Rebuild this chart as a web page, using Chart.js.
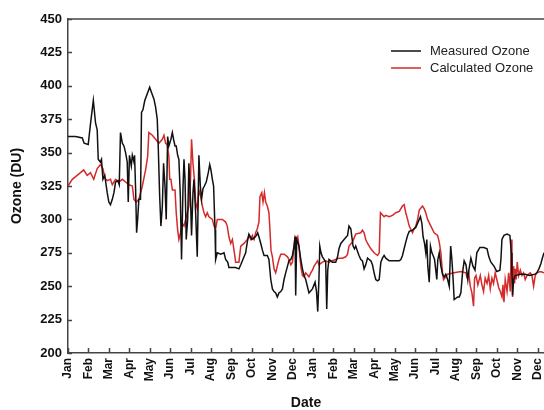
<!DOCTYPE html>
<html>
<head>
<meta charset="utf-8">
<script src="https://cdn.jsdelivr.net/npm/chart.js@4.4.1/dist/chart.umd.min.js"></script>
<style>
  html, body { margin: 0; padding: 0; background: #fff; overflow: hidden; }
  canvas { display: block; }
</style>
</head>
<body>
<canvas id="ozone" width="544" height="410"></canvas>
<script>
// x = months since 1 Jan of the first year, y = ozone in DU
const monthLabels = ['Jan', 'Feb', 'Mar', 'Apr', 'May', 'Jun', 'Jul', 'Aug', 'Sep', 'Oct', 'Nov', 'Dec',
  'Jan', 'Feb', 'Mar', 'Apr', 'May', 'Jun', 'Jul', 'Aug', 'Sep', 'Oct', 'Nov', 'Dec'];
const yTicks = [200, 225, 250, 275, 300, 325, 350, 375, 400, 425, 450];

const measured = [
  [0.00, 362], [0.37, 362], [0.70, 361], [0.79, 357], [0.99, 356], [1.09, 370], [1.24, 389], [1.35, 372],
  [1.43, 367], [1.48, 345], [1.58, 343], [1.64, 345], [1.71, 330], [1.80, 333], [1.92, 320], [2.00, 313],
  [2.08, 311], [2.17, 315], [2.25, 320], [2.33, 328], [2.44, 329], [2.51, 326], [2.57, 365], [2.66, 357],
  [2.74, 355], [2.82, 350], [2.90, 343], [2.95, 313], [3.01, 348], [3.10, 340], [3.15, 348], [3.23, 343],
  [3.26, 348], [3.31, 323], [3.36, 290], [3.41, 300], [3.47, 315], [3.55, 315], [3.60, 380], [3.67, 382],
  [3.76, 389], [4.00, 399], [4.09, 395], [4.21, 390], [4.29, 384], [4.37, 375], [4.42, 354], [4.49, 317],
  [4.55, 295], [4.62, 310], [4.68, 342], [4.75, 325], [4.81, 300], [4.88, 362], [4.94, 355], [5.04, 360],
  [5.11, 365], [5.17, 360], [5.24, 355], [5.30, 355], [5.37, 348], [5.43, 345], [5.50, 318], [5.56, 270],
  [5.63, 323], [5.68, 345], [5.73, 330], [5.79, 285], [5.86, 300], [5.92, 342], [6.00, 315], [6.05, 288],
  [6.12, 320], [6.17, 330], [6.25, 305], [6.33, 272], [6.41, 348], [6.48, 325], [6.54, 315], [6.61, 323],
  [6.68, 325], [6.77, 328], [6.87, 335], [6.94, 341], [7.00, 337], [7.07, 330], [7.13, 325], [7.20, 292],
  [7.23, 270], [7.31, 275], [7.48, 274], [7.64, 275], [7.72, 270], [7.82, 268], [7.88, 264], [8.21, 264],
  [8.37, 263], [8.46, 266], [8.62, 272], [8.70, 275], [8.78, 283], [8.86, 289], [9.00, 285], [9.11, 286],
  [9.23, 288], [9.29, 290], [9.35, 287], [9.44, 282], [9.52, 277], [9.60, 273], [9.76, 273], [9.84, 270],
  [9.93, 255], [10.01, 248], [10.09, 246], [10.17, 245], [10.25, 242], [10.33, 245], [10.42, 246], [10.50, 248],
  [10.58, 255], [10.66, 260], [10.75, 265], [10.82, 269], [10.91, 270], [10.99, 273], [11.07, 280], [11.12, 287],
  [11.15, 243], [11.20, 285], [11.25, 283], [11.31, 280], [11.40, 270], [11.48, 263], [11.56, 258], [11.64, 255],
  [11.80, 245], [11.97, 248], [12.10, 253], [12.17, 246], [12.23, 231], [12.29, 256], [12.33, 280], [12.39, 275],
  [12.46, 272], [12.54, 270], [12.62, 268], [12.67, 233], [12.72, 262], [12.78, 270], [12.95, 268], [13.11, 268],
  [13.20, 272], [13.27, 278], [13.36, 282], [13.52, 285], [13.69, 288], [13.76, 295], [13.85, 293], [13.90, 287],
  [13.96, 280], [14.03, 278], [14.09, 280], [14.18, 276], [14.25, 273], [14.34, 270], [14.42, 269], [14.50, 263],
  [14.58, 266], [14.67, 271], [14.75, 270], [14.83, 269], [14.91, 266], [14.99, 260], [15.07, 255], [15.16, 254],
  [15.24, 255], [15.32, 268], [15.40, 271], [15.48, 273], [15.56, 271], [15.73, 269], [15.89, 269], [16.22, 269],
  [16.30, 270], [16.38, 273], [16.46, 278], [16.54, 283], [16.63, 288], [16.71, 291], [16.87, 292], [17.03, 294],
  [17.20, 300], [17.26, 302], [17.33, 297], [17.39, 287], [17.46, 282], [17.52, 275], [17.57, 285], [17.62, 265],
  [17.69, 253], [17.75, 280], [17.82, 275], [17.88, 273], [17.95, 270], [18.01, 262], [18.06, 255], [18.11, 270],
  [18.18, 275], [18.26, 265], [18.34, 259], [18.42, 257], [18.50, 259], [18.59, 255], [18.67, 250], [18.74, 280],
  [18.80, 270], [18.86, 255], [18.91, 240], [19.08, 242], [19.16, 242], [19.24, 245], [19.32, 260], [19.40, 269],
  [19.49, 266], [19.58, 255], [19.63, 262], [19.73, 271], [19.83, 265], [19.93, 262], [20.02, 275], [20.17, 279],
  [20.37, 279], [20.52, 278], [20.61, 272], [20.71, 268], [20.86, 265], [21.00, 261], [21.15, 262], [21.20, 270],
  [21.25, 285], [21.35, 288], [21.50, 289], [21.64, 288], [21.71, 275], [21.74, 260], [21.77, 243], [21.82, 255],
  [21.90, 258], [22.13, 259], [22.38, 259], [22.62, 258], [22.87, 259], [22.96, 260], [23.06, 263], [23.16, 267],
  [23.21, 270], [23.31, 275]
];

const calculated = [
  [0.00, 325], [0.21, 330], [0.45, 333], [0.77, 337], [0.94, 333], [1.10, 335], [1.26, 330], [1.43, 338],
  [1.59, 341], [1.71, 338], [1.80, 331], [1.92, 329], [2.08, 330], [2.17, 326], [2.33, 330], [2.49, 328],
  [2.66, 330], [2.82, 328], [2.98, 326], [3.15, 325], [3.23, 315], [3.34, 313], [3.47, 315], [3.64, 325],
  [3.80, 337], [3.90, 347], [3.96, 365], [4.13, 363], [4.29, 360], [4.45, 357], [4.62, 360], [4.70, 363],
  [4.78, 357], [4.86, 356], [4.94, 347], [4.98, 330], [5.04, 330], [5.11, 322], [5.24, 322], [5.30, 305],
  [5.37, 292], [5.43, 285], [5.51, 290], [5.60, 297], [5.68, 295], [5.76, 300], [5.84, 305], [5.92, 310],
  [6.00, 330], [6.05, 360], [6.12, 342], [6.19, 330], [6.25, 313], [6.33, 308], [6.41, 322], [6.50, 317],
  [6.58, 310], [6.66, 305], [6.74, 302], [6.82, 305], [6.90, 302], [7.07, 300], [7.15, 295], [7.23, 293],
  [7.31, 300], [7.56, 300], [7.72, 298], [7.80, 295], [7.88, 287], [7.97, 282], [8.05, 285], [8.13, 277],
  [8.21, 268], [8.37, 268], [8.46, 280], [8.62, 282], [8.78, 285], [8.86, 288], [8.95, 285], [9.03, 288],
  [9.11, 285], [9.19, 290], [9.27, 293], [9.35, 298], [9.40, 317], [9.49, 320], [9.55, 313], [9.62, 320],
  [9.68, 313], [9.76, 310], [9.84, 305], [9.89, 292], [9.94, 277], [10.01, 272], [10.09, 263], [10.17, 260],
  [10.25, 265], [10.33, 270], [10.42, 274], [10.58, 274], [10.75, 272], [10.82, 270], [10.91, 266], [10.99, 268],
  [11.07, 280], [11.12, 287], [11.19, 285], [11.25, 287], [11.31, 280], [11.40, 265], [11.48, 258], [11.56, 257],
  [11.64, 260], [11.80, 257], [11.89, 260], [11.97, 262], [12.05, 265], [12.22, 269], [12.29, 266], [12.46, 268],
  [12.62, 269], [12.78, 268], [12.95, 269], [13.11, 270], [13.27, 271], [13.44, 271], [13.60, 272], [13.69, 274],
  [13.76, 280], [13.93, 283], [14.09, 289], [14.34, 290], [14.42, 292], [14.50, 290], [14.58, 285], [14.67, 282],
  [14.83, 278], [14.99, 275], [15.16, 273], [15.24, 275], [15.30, 305], [15.48, 302], [15.56, 303], [15.73, 302],
  [15.89, 303], [16.05, 305], [16.22, 306], [16.38, 310], [16.46, 311], [16.54, 305], [16.63, 300], [16.71, 295],
  [16.87, 290], [16.95, 293], [17.03, 295], [17.12, 300], [17.20, 307], [17.36, 310], [17.44, 308], [17.52, 305],
  [17.61, 300], [17.77, 295], [17.93, 290], [18.10, 288], [18.18, 283], [18.26, 275], [18.34, 260], [18.39, 255],
  [18.59, 259], [18.91, 260], [19.24, 261], [19.49, 260], [19.53, 257], [19.62, 260], [19.70, 250], [19.78, 245],
  [19.86, 235], [19.91, 256], [19.98, 258], [20.07, 251], [20.19, 258], [20.27, 251], [20.35, 246], [20.43, 256],
  [20.52, 252], [20.60, 258], [20.68, 248], [20.76, 256], [20.84, 252], [20.92, 260], [21.00, 255], [21.09, 249],
  [21.17, 246], [21.25, 242], [21.30, 251], [21.35, 238], [21.41, 255], [21.50, 246], [21.58, 260], [21.66, 246],
  [21.71, 285], [21.74, 275], [21.77, 242], [21.82, 265], [21.87, 252], [21.90, 263], [21.95, 255], [22.00, 268],
  [22.07, 258], [22.15, 262], [22.23, 258], [22.31, 260], [22.39, 255], [22.48, 258], [22.56, 259], [22.64, 260],
  [22.72, 258], [22.80, 250], [22.88, 258], [22.96, 260], [23.13, 261], [23.31, 260]
];

const axisColor = '#444';
const textColor = '#111';
Chart.defaults.font.family = '"Liberation Sans", Arial, sans-serif';

// top frame line, inward ticks on both axes and the legend in the upper right
const frameAndLegend = {
  id: 'frameAndLegend',
  afterDraw(chart) {
    const { ctx, chartArea: a, scales: { x, y } } = chart;
    ctx.save();
    ctx.strokeStyle = axisColor;
    ctx.lineWidth = 1.5;
    ctx.beginPath();
    ctx.moveTo(a.left, a.top);
    ctx.lineTo(a.right, a.top);
    x.ticks.forEach(t => {
      const px = Math.round(x.getPixelForValue(t.value)) + 0.5;
      ctx.moveTo(px, a.bottom);
      ctx.lineTo(px, a.bottom - 5);
    });
    y.ticks.forEach(t => {
      const py = Math.round(y.getPixelForValue(t.value)) + 0.5;
      ctx.moveTo(a.left, py);
      ctx.lineTo(a.left + 4, py);
    });
    ctx.stroke();

    ctx.font = '13px "Liberation Sans", Arial, sans-serif';
    ctx.textBaseline = 'middle';
    chart.data.datasets.forEach((ds, i) => {
      const ly = 51 + i * 17;
      ctx.strokeStyle = ds.borderColor;
      ctx.lineWidth = 1.5;
      ctx.beginPath();
      ctx.moveTo(391, ly);
      ctx.lineTo(421, ly);
      ctx.stroke();
      ctx.fillStyle = '#222';
      ctx.fillText(ds.label, 430, ly);
    });
    ctx.restore();
  }
};

new Chart(document.getElementById('ozone'), {
  type: 'line',
  data: {
    datasets: [
      {
        label: 'Measured Ozone',
        data: measured.map(([x, y]) => ({ x, y })),
        borderColor: '#111',
        borderWidth: 1.5,
        pointRadius: 0,
        tension: 0
      },
      {
        label: 'Calculated Ozone',
        data: calculated.map(([x, y]) => ({ x, y })),
        borderColor: '#d42a2a',
        borderWidth: 1.5,
        pointRadius: 0,
        tension: 0
      }
    ]
  },
  options: {
    responsive: false,
    animation: false,
    devicePixelRatio: 1,
    layout: { padding: { top: 19, right: 0, bottom: 0, left: 0 } },
    plugins: {
      legend: { display: false },
      tooltip: { enabled: false }
    },
    scales: {
      x: {
        type: 'linear',
        min: 0,
        max: 23.31,
        afterBuildTicks: s => { s.ticks = monthLabels.map((m, i) => ({ value: i })); },
        afterFit: s => { s.height = 57; s.paddingLeft = 0; s.paddingRight = 0; },
        border: { color: axisColor, width: 1.5 },
        grid: { drawOnChartArea: false, drawTicks: false },
        ticks: {
          autoSkip: false,
          minRotation: 90,
          maxRotation: 90,
          padding: 5,
          color: textColor,
          font: { size: 12, weight: 'bold' },
          callback: v => monthLabels[v]
        },
        title: {
          display: true,
          text: 'Date',
          color: textColor,
          font: { size: 14, weight: 'bold', lineHeight: 1 },
          padding: { top: 0, bottom: 0 }
        }
      },
      y: {
        min: 200,
        max: 450,
        afterBuildTicks: s => { s.ticks = yTicks.map(v => ({ value: v })); },
        afterFit: s => { s.width = 68; },
        border: { color: axisColor, width: 1.5 },
        grid: { drawOnChartArea: false, drawTicks: false },
        ticks: {
          padding: 6,
          color: textColor,
          font: { size: 13, weight: 'bold' }
        },
        title: {
          display: true,
          text: 'Ozone (DU)',
          color: textColor,
          font: { size: 14, weight: 'bold' },
          padding: { top: 9, bottom: 0 }
        }
      }
    }
  },
  plugins: [frameAndLegend]
});
</script>
</body>
</html>
